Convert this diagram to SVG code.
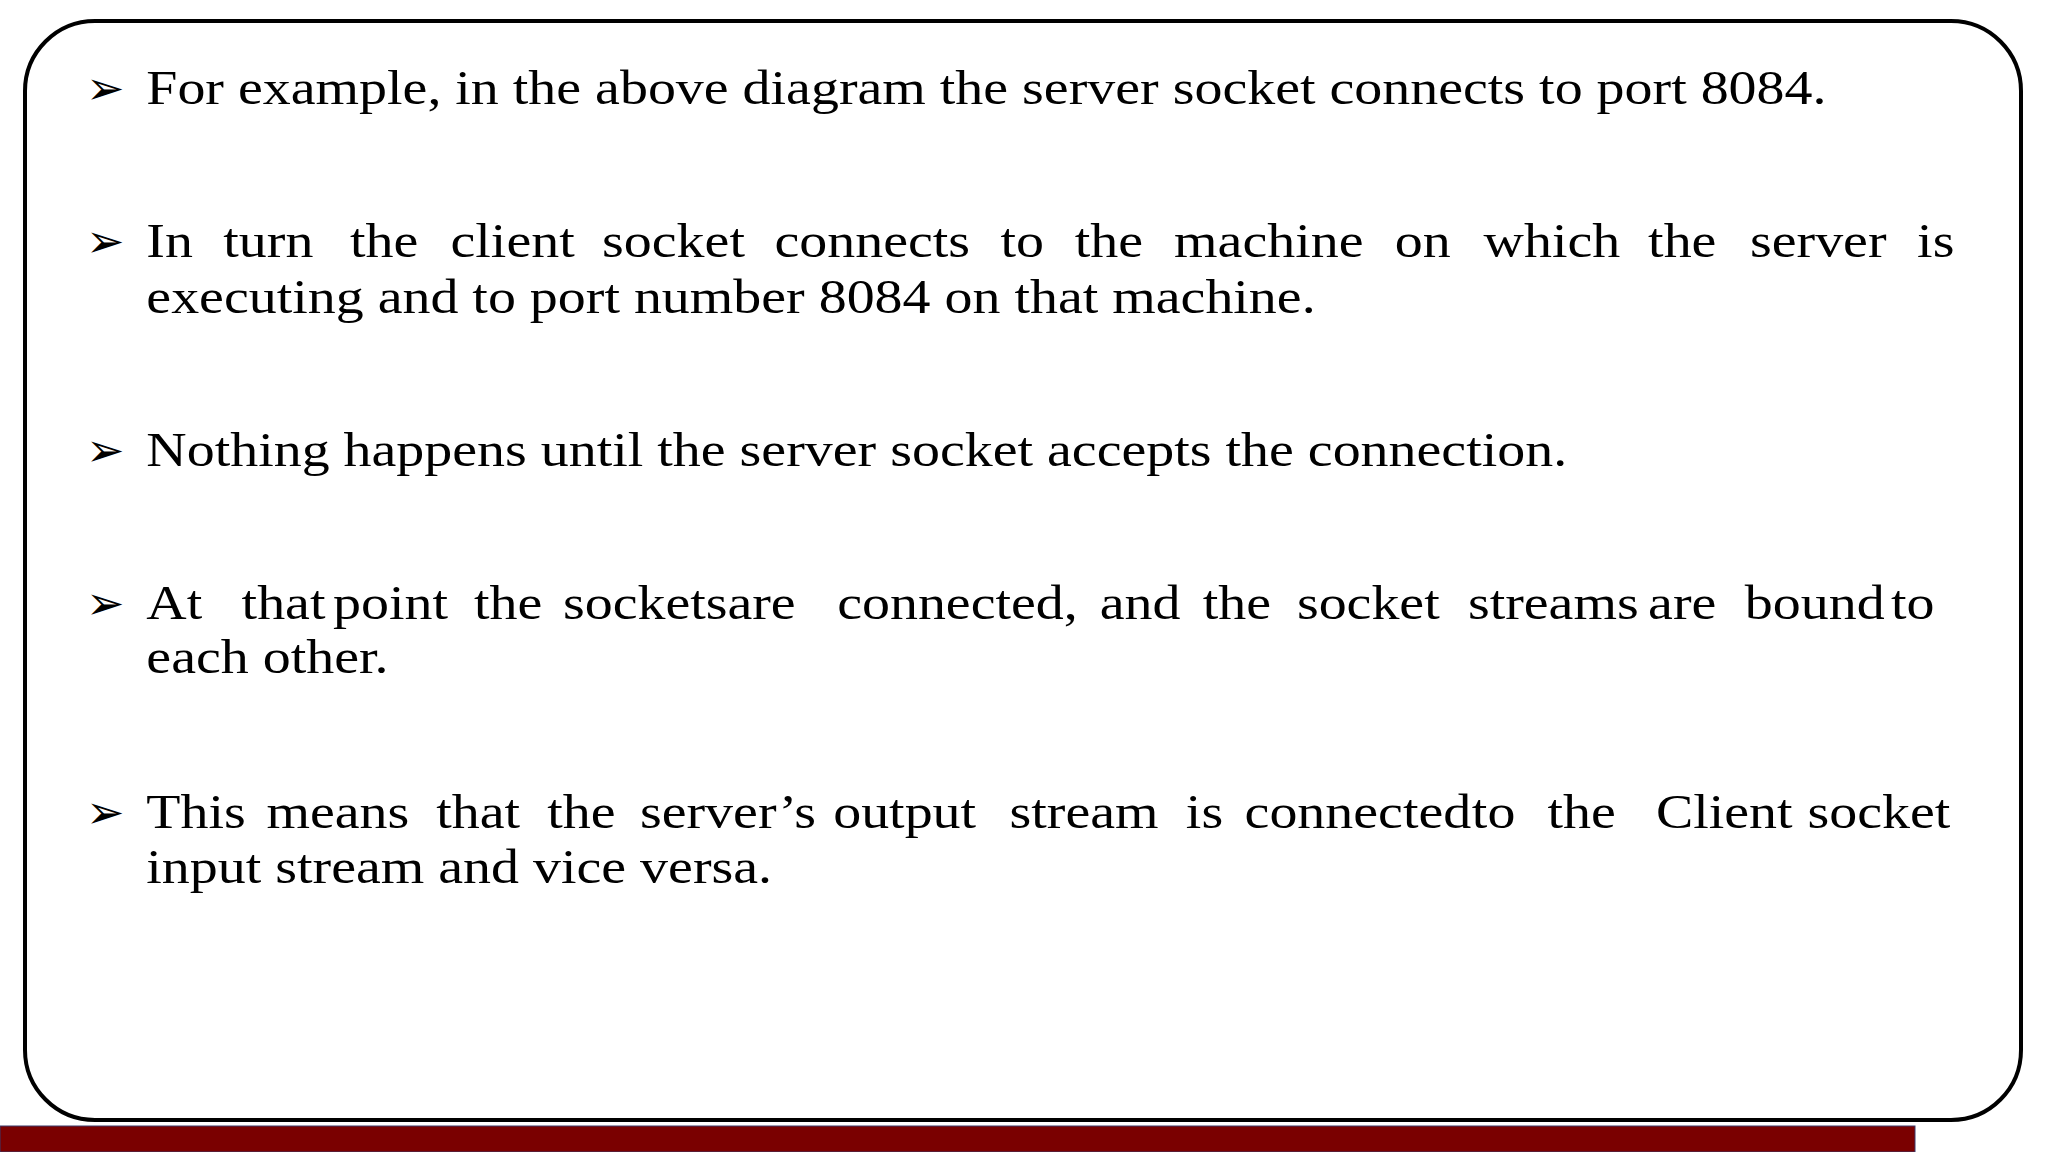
<svg xmlns="http://www.w3.org/2000/svg" width="2048" height="1152" viewBox="0 0 2048 1152">
<style>
text{font-family:"Liberation Serif","DejaVu Serif",serif;font-size:48px;fill:#000}
text.t{transform:scale(1.165,1)}
.b{font-family:"DejaVu Sans",sans-serif;font-size:46px}
</style>
<rect width="2048" height="1152" fill="#fff"/>
<g id="frame"><rect x="25" y="21" width="1996" height="1099" rx="70" fill="none" stroke="#000" stroke-width="4"/></g>
<g id="bar"><rect x="0" y="1126" width="1915" height="26" fill="#7a0000" stroke="#3a3a6a" stroke-width="1"/></g>
<g id="text">
<text class="b" x="86" y="104">➢</text>
<text class="t" x="125.6" y="104">For example, in the above diagram the server socket connects to port 8084.</text>
<text class="b" x="86" y="257">➢</text>
<text class="t" y="257"><tspan x="125.6">In</tspan><tspan x="191.7">turn</tspan><tspan x="300.4">the</tspan><tspan x="386.7">client</tspan><tspan x="516.8">socket</tspan><tspan x="664.8">connects</tspan><tspan x="858.7">to</tspan><tspan x="922.6">the</tspan><tspan x="1007.8">machine</tspan><tspan x="1197.2">on</tspan><tspan x="1273.5">which</tspan><tspan x="1414.7">the</tspan><tspan x="1502.1">server</tspan><tspan x="1645.6">is</tspan></text>
<text class="t" x="125.6" y="313">executing and to port number 8084 on that machine.</text>
<text class="b" x="86" y="466">➢</text>
<text class="t" x="125.6" y="466">Nothing happens until the server socket accepts the connection.</text>
<text class="b" x="86" y="619">➢</text>
<text class="t" y="619"><tspan x="125.6">At</tspan><tspan x="207.4">that</tspan><tspan x="285.9">point</tspan><tspan x="406.9">the</tspan><tspan x="483.2">sockets</tspan><tspan x="624.4">are</tspan><tspan x="718.6">connected,</tspan><tspan x="943.9">and</tspan><tspan x="1032.4">the</tspan><tspan x="1113.2">socket</tspan><tspan x="1260">streams</tspan><tspan x="1414.7">are</tspan><tspan x="1497.7">bound</tspan><tspan x="1623.2">to</tspan></text>
<text class="t" x="125.6" y="673">each other.</text>
<text class="b" x="86" y="828">➢</text>
<text class="t" y="828"><tspan x="125.6">This</tspan><tspan x="228.7">means</tspan><tspan x="374.4">that</tspan><tspan x="469.7">the</tspan><tspan x="549.3">server’s</tspan><tspan x="715.2">output</tspan><tspan x="866.5">stream</tspan><tspan x="1017.9">is</tspan><tspan x="1068.3">connected</tspan><tspan x="1263.4">to</tspan><tspan x="1328.4">the</tspan><tspan x="1421.4">Client</tspan><tspan x="1551.5">socket</tspan></text>
<text class="t" x="125.6" y="883">input stream and vice versa.</text>
</g>
</svg>
